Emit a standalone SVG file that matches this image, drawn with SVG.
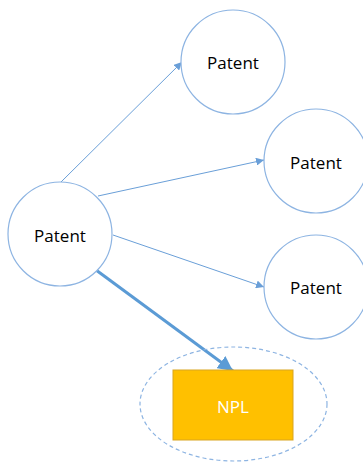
<svg xmlns="http://www.w3.org/2000/svg" width="363" height="462" viewBox="0 0 363 462">
<style>
.node{fill:#fff;stroke:#8DB4E2;stroke-width:1.2}
.lbl{font-family:"Open Sans","Liberation Sans",sans-serif;font-size:17px;fill:#000;text-anchor:middle;dominant-baseline:central}
.edge{stroke:#6A9FD8;stroke-width:1;fill:none}
</style>
<defs>
<marker id="ah" viewBox="0 0 10 10" refX="10" refY="5" markerWidth="8" markerHeight="8" markerUnits="userSpaceOnUse" orient="auto">
<path d="M0,0 L10,5 L0,10 z" fill="#6A9FD8"/>
</marker>
<marker id="ahb" viewBox="0 0 10 10" refX="10" refY="5" markerWidth="5" markerHeight="5" orient="auto">
<path d="M0,0 L10,5 L0,10 z" fill="#5B9BD5"/>
</marker>
</defs>
<g id="connectors">
<line class="edge" x1="61" y1="182" x2="182" y2="62" marker-end="url(#ah)"/>
<line class="edge" x1="98" y1="196" x2="264" y2="160" marker-end="url(#ah)"/>
<line class="edge" x1="113" y1="235" x2="264" y2="287" marker-end="url(#ah)"/>
<line x1="96" y1="270" x2="233" y2="371" stroke="#5B9BD5" stroke-width="3" marker-end="url(#ahb)"/>
</g>
<g id="p0"><circle class="node" cx="60" cy="234" r="52"/><text class="lbl" x="60" y="235">Patent</text></g>
<g id="p1"><circle class="node" cx="233" cy="62" r="52"/><text class="lbl" x="233" y="62">Patent</text></g>
<g id="p2"><circle class="node" cx="316" cy="161" r="52"/><text class="lbl" x="316" y="162">Patent</text></g>
<g id="p3"><circle class="node" cx="316" cy="287" r="52"/><text class="lbl" x="316" y="287">Patent</text></g>
<g id="npl">
<ellipse cx="233.5" cy="404" rx="93.5" ry="57" fill="none" stroke="#8DB4E2" stroke-width="1.2" stroke-dasharray="4,3"/>
<rect x="173" y="370" width="120" height="70" fill="#FFC000" stroke="#D9A520" stroke-width="1"/>
<text x="233" y="406" font-family="'Open Sans','Liberation Sans',sans-serif" font-size="17" fill="#fff" text-anchor="middle" dominant-baseline="central">NPL</text>
</g>
</svg>
